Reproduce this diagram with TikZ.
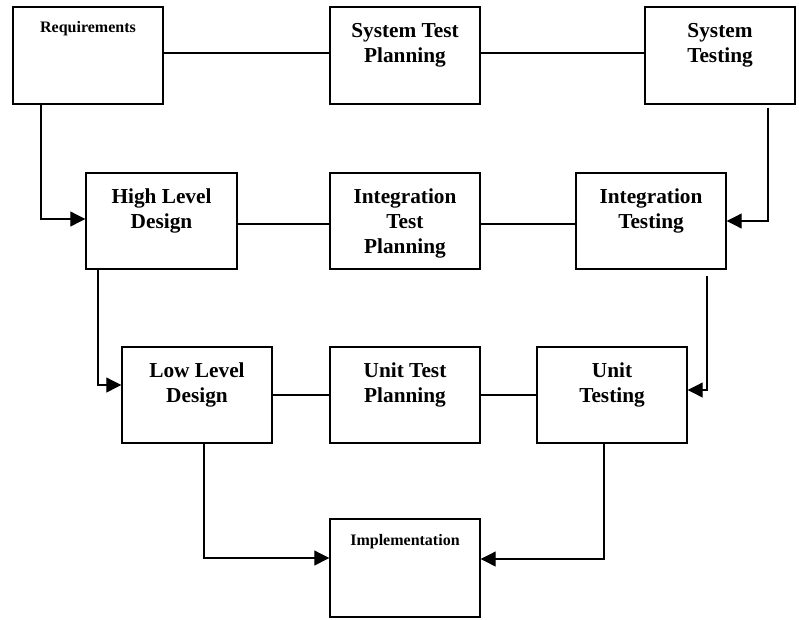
\documentclass[tikz,border=0pt]{standalone}
\usepackage{fontspec}
\setmainfont{Liberation Serif}
\usetikzlibrary{arrows.meta}
\begin{document}
\begin{tikzpicture}[x=1pt,y=-1pt,
  stage/.style={draw=black,line width=1.4pt,rectangle,inner sep=0pt,
    minimum width=150pt,minimum height=97pt},
  % base anchor sits on the last line, so shift by the number of lines
  bigtxt/.style={anchor=base,align=center,inner sep=0pt,
    font=\bfseries\fontsize{21.3}{25}\selectfont,yshift=-56pt},
  threeline/.style={yshift=-25pt},
  smalltxt/.style={anchor=base,align=center,inner sep=0pt,
    font=\bfseries\fontsize{16}{19}\selectfont,yshift=-26.5pt},
  link/.style={draw=black,line width=1.1pt},
  flow/.style={link,-{Triangle[length=15pt,width=15pt]}}]
\useasboundingbox (0,0) rectangle (799,619);

% boxes
\node[stage] (req)  at (88,55.5)  {};
\node[stage] (stp)  at (405,55.5) {};
\node[stage] (st)   at (720,55.5) {};
\node[stage,minimum height=96pt,minimum width=151pt] (hld) at (161.5,221) {};
\node[stage,minimum height=96pt] (itp) at (405,221) {};
\node[stage,minimum height=96pt] (it)  at (651,221) {};
\node[stage,minimum height=96pt] (lld) at (197,395) {};
\node[stage,minimum height=96pt] (utp) at (405,395) {};
\node[stage,minimum height=96pt] (ut)  at (612,395) {};
\node[stage,minimum height=98pt] (impl) at (405,568) {};

% captions
\node[smalltxt] (req-t)  at (req.north)  {Requirements};
\node[bigtxt]   (stp-t)  at (stp.north)  {System Test\\Planning};
\node[bigtxt]   (st-t)   at (st.north)   {System\\Testing};
\node[bigtxt]   (hld-t)  at (hld.north)  {High Level\\Design};
\node[bigtxt,threeline] (itp-t) at (itp.north) {Integration\\Test\\Planning};
\node[bigtxt]   (it-t)   at (it.north)   {Integration\\Testing};
\node[bigtxt]   (lld-t)  at (lld.north)  {Low Level\\Design};
\node[bigtxt]   (utp-t)  at (utp.north)  {Unit Test\\Planning};
\node[bigtxt]   (ut-t)   at (ut.north)   {Unit\\Testing};
\node[smalltxt,yshift=-0.5pt] (impl-t) at (impl.north) {Implementation};

% horizontal links between levels
\draw[link] ([yshift=2.5pt]req.east) -- ([yshift=2.5pt]stp.west);
\draw[link] ([yshift=2.5pt]stp.east) -- ([yshift=2.5pt]st.west);
\draw[link] ([yshift=-3pt]hld.east) -- ([yshift=-3pt]itp.west);
\draw[link] ([yshift=-3pt]itp.east) -- ([yshift=-3pt]it.west);
\draw[link] (lld.east) -- (utp.west);
\draw[link] (utp.east) -- (ut.west);

% design side, going down
\draw[flow] ([xshift=-47pt]req.south) |- ([yshift=2pt]hld.west);
\draw[flow] ([xshift=-63.5pt]hld.south) |- ([yshift=10pt]lld.west);
\draw[flow] ([xshift=7pt]lld.south) |- ([yshift=10pt]impl.west);

% testing side, going down
\draw[flow] ([xshift=48pt,yshift=-3pt]st.south) |- (it.east);
\draw[flow] ([xshift=56pt,yshift=-6pt]it.south) |- ([yshift=5pt]ut.east);
\draw[flow] ([xshift=-8pt]ut.south) |- ([yshift=9pt]impl.east);
\end{tikzpicture}
\end{document}
